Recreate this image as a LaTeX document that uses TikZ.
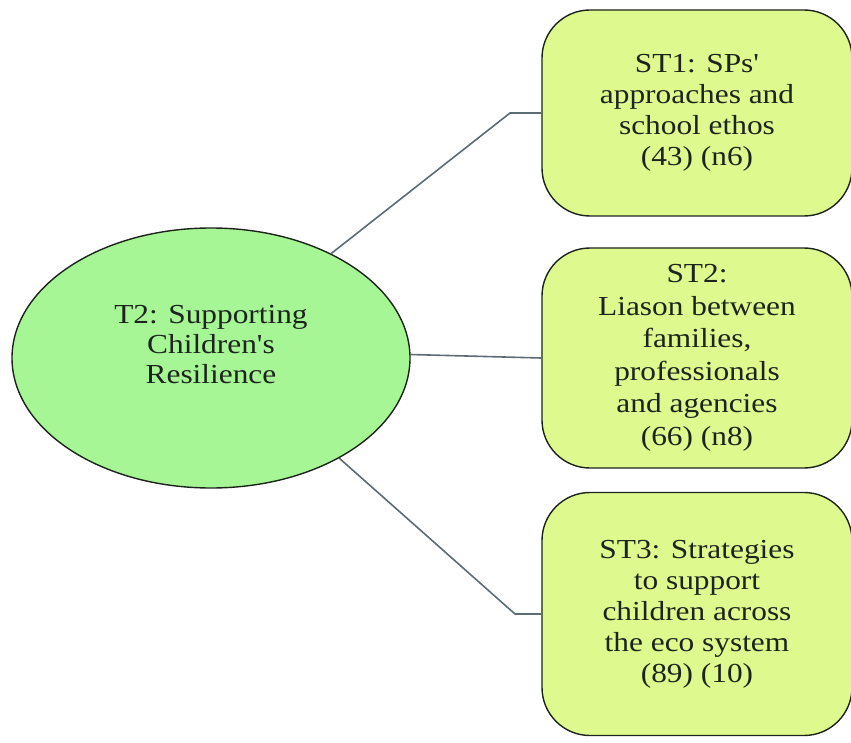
\documentclass[tikz,border=0pt]{standalone}
\usepackage{fontspec}
\setmainfont{Liberation Serif}[Ligatures=TeXOff, FakeStretch=1.14]
\usetikzlibrary{shapes.geometric}
\definecolor{ellgreen}{RGB}{166,246,150}
\definecolor{boxlime}{RGB}{222,250,142}
\definecolor{linkgray}{RGB}{92,108,116}
\definecolor{inkdark}{RGB}{28,36,28}
\begin{document}
\begin{tikzpicture}[x=1pt,y=-1pt,
  theme/.style={ellipse, draw=inkdark, line width=1.4pt, fill=ellgreen,
    minimum width=398pt, minimum height=260pt, inner sep=0pt},
  sublabel/.style={text=inkdark, align=center, font=\fontsize{27.5}{30}\selectfont},
  subbox/.style={draw=inkdark, line width=1.4pt, fill=boxlime, rounded corners=48pt,
    minimum width=310pt, inner sep=0pt, text=inkdark, align=center,
    font=\fontsize{27.5}{31}\selectfont},
  link/.style={draw=linkgray, line width=1.6pt}]
\useasboundingbox (0,0) rectangle (851,743);

% central theme
\node[theme] (t2) at (211,358) {};
\node[sublabel] (t2text) at (211,345) {T2: Supporting\\Children's\\Resilience};

% sub-themes
\node[subbox, minimum height=206pt] (st1) at (697,113)
  {ST1: SPs'\\approaches and\\school ethos\\(43) (n6)};
\node[subbox, minimum height=220pt, font=\fontsize{27.5}{32.5}\selectfont] (st2) at (697,358)
  {ST2:\\Liason between\\families,\\professionals\\and agencies\\(66) (n8)};
\node[subbox, minimum height=243pt] (st3) at (697,614)
  {ST3: Strategies\\to support\\children across\\the eco system\\(89) (10)};

% elbow points of the connectors
\coordinate (k1) at (510,113);
\coordinate (k3) at (515,614);

% connectors
\draw[link] (t2.41) -- (k1) -- (st1.west);
\draw[link] (t2.1) -- (st2.west);
\draw[link] (t2.-38) -- (k3) -- (st3.west);
\end{tikzpicture}
\end{document}
